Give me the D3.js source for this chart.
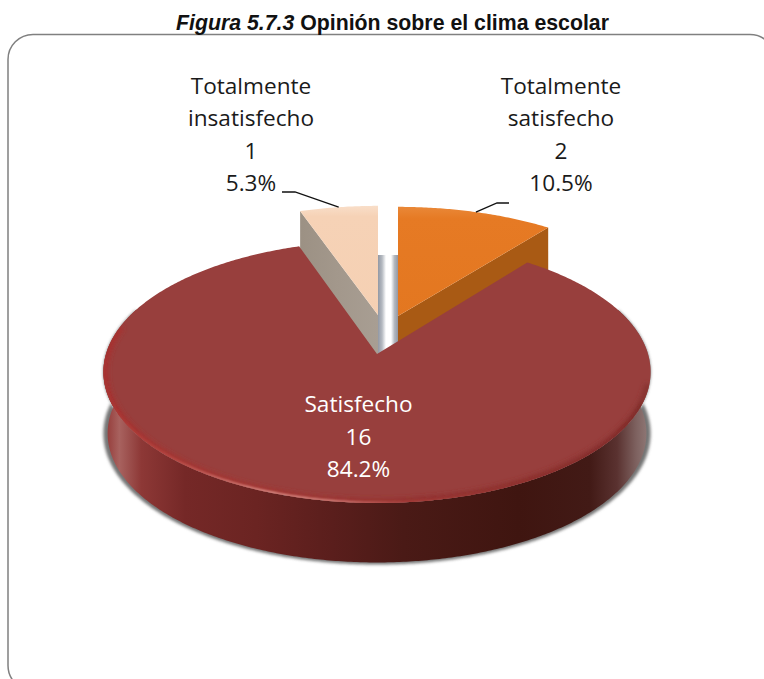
<!DOCTYPE html>
<html><head><meta charset="utf-8">
<style>html,body{margin:0;padding:0;background:#fff}svg{display:block}</style>
<script src="https://cdn.jsdelivr.net/npm/d3@7/dist/d3.min.js"></script>
</head><body><svg id="c" width="764" height="679"></svg>
<script>
const categories = [["Totalmente","satisfecho"],["Satisfecho"],["Totalmente","insatisfecho"]];
const counts = [2,16,1];
const percents = ["10.5%","84.2%","5.3%"];
const topColors = ["#e47822","#983f3d","#f6d2b6"];
const wallColors = ["#a95a14","#6b2422","#a3988c"];
const labelCenters = [[561,93.5],[358.5,412],[251,93.5]];
const labelColors = ["#1a1a1a","#ffffff","#1a1a1a"];
const labelKnees = [[[497,203],[509,203]],null,[[295,192],[282,192]]];
const apexes = [[398,316],[377,354],[378,315]];
const flatten = [0.965,1,0.965];

const svg = d3.select("#c");
const defs = svg.append("defs");
const RX=271, RY=128.6, PERSP=0.137, DEPTH=62;

function project(theta, i, r=1, dy=0){
  const u=Math.sin(theta)*r, v=Math.cos(theta)*r, s=1/(1+PERSP*v);
  return [apexes[i][0]+RX*u*s, apexes[i][1]-RY*v*s*flatten[i]+dy];
}
const line=d3.line();
function arcPts(a0,a1,i,r,dy){
  const n=Math.max(2,Math.ceil(Math.abs(a1-a0)/0.01));
  return d3.range(n+1).map(k=>project(a0+(a1-a0)*k/n,i,r,dy));
}
const arcs=d3.pie().sort(null).value(d=>d)(counts);

function lin(id,x1,x2,stops,y1=0,y2=0){
  const g=defs.append("linearGradient").attr("id",id).attr("gradientUnits","userSpaceOnUse")
    .attr("x1",x1).attr("x2",x2).attr("y1",y1).attr("y2",y2);
  stops.forEach(s=>g.append("stop").attr("offset",s[0]).attr("stop-color",s[1]).attr("stop-opacity",s[2]===undefined?1:s[2]));
}
lin("wall",103,650,[[0,"#8e3634"],[0.01,"#984240"],[0.03,"#a8625f"],[0.07,"#8d3836"],[0.15,"#752827"],[0.28,"#6b2422"],[0.42,"#5a1e1c"],[0.55,"#4a1a16"],[0.76,"#3f1510"],[0.89,"#421a16"],[0.94,"#5a3230"],[0.975,"#7e6260"],[1,"#927c7a"]]);
lin("rimHi",103,650,[[0,"#a83533"],[0.12,"#b94c48"],[0.3,"#e09a94"],[0.42,"#d98a84"],[0.55,"#a8403c"],[0.8,"#8c2f2d"],[1,"#7a2a28"]]);
lin("rimGlow",103,650,[[0,"#a92f2d"],[0.3,"#a5322f"],[0.6,"#8f2c2a"],[1,"#85302e"]]);
lin("band",378,398,[[0,"#9298a4"],[0.2,"#b4b9c0"],[0.4,"#ffffff"],[0.65,"#ffffff"],[0.82,"#b4b9c0"],[1,"#9298a4"]]);
lin("orangeTop",0,0,[[0,"#ea8a3a"],[0.12,"#e67a24"],[1,"#e37720"]],205,320);
lin("peachTop",0,0,[[0,"#f9dfca"],[0.1,"#f6d2b6"],[1,"#f5d0b3"]],205,320);
lin("peachWall",301,378,[[0,"#9c9184"],[0.5,"#a3988c"],[1,"#a89e93"]]);
const fBlur=defs.append("filter").attr("id","blur").attr("x","-5%").attr("y","-5%").attr("width","110%").attr("height","110%");
fBlur.append("feGaussianBlur").attr("stdDeviation",1.6);
const fSoft=defs.append("filter").attr("id","soft").attr("x","-5%").attr("y","-5%").attr("width","110%").attr("height","110%");
fSoft.append("feGaussianBlur").attr("stdDeviation",0.8);
const fGlow=defs.append("filter").attr("id","glow").attr("x","-5%").attr("y","-5%").attr("width","110%").attr("height","110%");
fGlow.append("feGaussianBlur").attr("stdDeviation",2.5);

// frame
svg.append("rect").attr("x",8).attr("y",34.5).attr("width",767).attr("height",656).attr("rx",25)
  .attr("fill","#fff").attr("stroke","#808080").attr("stroke-width",1.5);

// title
const title=svg.append("text").attr("x",392.5).attr("y",30).attr("text-anchor","middle")
  .attr("font-family","'Liberation Sans',Arial,sans-serif").attr("font-size",16.4).attr("font-weight","bold").attr("fill","#111");
title.append("tspan").attr("font-style","italic").text("Figura 5.7.3");
title.append("tspan").text(" Opinión sobre el clima escolar");
const titleW=title.node().getComputedTextLength();
title.attr("font-size",16.4*433/titleW);

// exploded small slices
[0,2].forEach(i=>{
  const a=arcs[i], ap=apexes[i], e=i===0?a.endAngle:a.startAngle;
  const tip=project(e,i);
  svg.append("path").attr("d",line([ap,tip,[tip[0],tip[1]+DEPTH],[ap[0],ap[1]+DEPTH]])+"Z")
    .attr("fill",i===0?wallColors[0]:"url(#peachWall)");
});
svg.append("rect").attr("x",apexes[2][0]).attr("y",255).attr("width",apexes[0][0]-apexes[2][0]).attr("height",110).attr("fill","url(#band)");
[0,2].forEach(i=>{
  const a=arcs[i], ap=apexes[i];
  const pts=[ap].concat(arcPts(a.startAngle,a.endAngle,i));
  svg.append("path").attr("d",line(pts)+"Z").attr("fill",i===0?"url(#orangeTop)":"url(#peachTop)");
});

// big slice
const b=arcs[1];
const wA=Math.max(b.startAngle,1.2), wB=Math.min(b.endAngle,2*Math.PI-1.2);
const shadowPts=arcPts(wA,wB,1,1.0,DEPTH-0.5);
svg.append("path").attr("d",line(arcPts(wA,wB,1,1.0,0).concat(shadowPts.reverse()))+"Z")
  .attr("fill","#757575").attr("filter","url(#blur)");
const wallTop=arcPts(wA,wB,1), wallBot=arcPts(wB,wA,1,0.985,DEPTH);
svg.append("path").attr("d",line(wallTop.concat(wallBot))+"Z").attr("fill","url(#wall)");
const faceD=line([apexes[1]].concat(arcPts(b.startAngle,b.endAngle,1)))+"Z";
svg.append("path").attr("d",faceD).attr("fill",topColors[1]);
const clip=defs.append("clipPath").attr("id","face");
clip.append("path").attr("d",faceD);
const rimG=svg.append("g").attr("clip-path","url(#face)");
rimG.append("path").attr("d",line(arcPts(1.8,2*Math.PI-1.35,1,0.995))).attr("fill","none")
  .attr("stroke","url(#rimGlow)").attr("stroke-width",6).attr("filter","url(#glow)");
rimG.append("path").attr("d",line(arcPts(1.95,2*Math.PI-1.6,1,0.998))).attr("fill","none")
  .attr("stroke","url(#rimHi)").attr("stroke-width",2.2).attr("filter","url(#soft)");

// leaders
[0,2].forEach(i=>{
  const a=arcs[i], mid=(a.startAngle+a.endAngle)/2;
  svg.append("path").attr("d",line([project(mid,i)].concat(labelKnees[i])))
    .attr("fill","none").attr("stroke","#111").attr("stroke-width",1.3);
});

// labels
categories.forEach((c,i)=>{
  const lines=c.concat([String(counts[i]),percents[i]]);
  const [cx,by]=labelCenters[i];
  const t=svg.append("text").attr("text-anchor","middle").attr("font-family","'Open Sans',sans-serif")
    .attr("font-size",22.6).attr("fill",labelColors[i]);
  lines.forEach((l,k)=>t.append("tspan").attr("x",cx).attr("y",by+k*32.6).text(l));
});
</script></body></html>
